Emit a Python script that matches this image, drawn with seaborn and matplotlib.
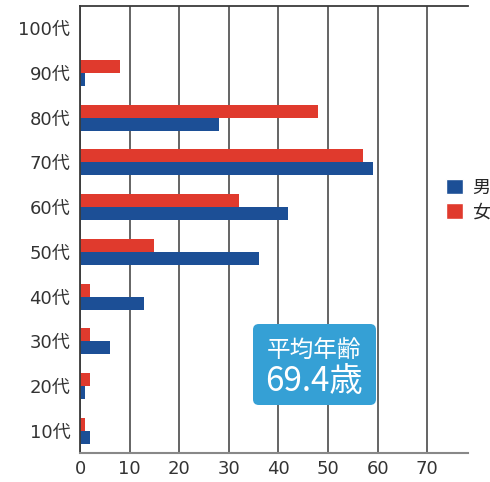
import matplotlib
matplotlib.use("Agg")
import matplotlib.pyplot as plt
import seaborn as sns
import pandas as pd
from matplotlib.patches import Patch, FancyBboxPatch

categories = ["100代", "90代", "80代", "70代", "60代", "50代", "40代", "30代", "20代", "10代"]
male = [0, 1, 28, 59, 42, 36, 13, 6, 1, 2]
female = [0, 8, 48, 57, 32, 15, 2, 2, 2, 1]
xticks = [0, 10, 20, 30, 40, 50, 60, 70]
avg_title = "平均年齢"
avg_value = "69.4歳"

df = pd.concat([
    pd.DataFrame({"年代": categories, "人数": female, "性別": "女"}),
    pd.DataFrame({"年代": categories, "人数": male, "性別": "男"}),
])

sns.set_theme(style="white")
plt.rcParams["font.family"] = ["DejaVu Sans", "Noto Sans CJK JP"]

BLUE = "#1c4f96"
RED = "#e03a2d"

fig = plt.figure(figsize=(4.9, 4.82), dpi=100)
ax = fig.add_axes([80/490, 29/482, 388/490, 447/482])

sns.barplot(data=df, x="人数", y="年代", hue="性別", hue_order=["女", "男"],
            order=categories, palette={"女": RED, "男": BLUE}, orient="h",
            width=0.58, ax=ax, legend=False, saturation=1, linewidth=0)

ax.set_xlim(0, 388/4.96)
ax.set_ylim(9.5, -0.5)
ax.set_xticks(xticks)
ax.set_xlabel("")
ax.set_ylabel("")
ax.xaxis.grid(True, color="#3a3a3a", linewidth=1.1)
ax.yaxis.grid(False)
ax.set_axisbelow(True)
for s in ["left", "top"]:
    ax.spines[s].set_color("#3a3a3a")
    ax.spines[s].set_linewidth(1.3)
ax.spines["bottom"].set_color("#888888")
ax.spines["bottom"].set_linewidth(1.5)
ax.spines["right"].set_visible(False)
ax.tick_params(axis="both", length=0, labelsize=13, colors="#333333")
ax.tick_params(axis="y", pad=7)
ax.tick_params(axis="x", pad=5)

handles = [Patch(facecolor=BLUE, label="男"), Patch(facecolor=RED, label="女")]
fig.legend(handles=handles, loc="center left", bbox_to_anchor=(446/490, 1 - 200/482),
           frameon=False, handlelength=0.95, handleheight=0.95,
           handletextpad=0.5, labelspacing=0.35, borderpad=0, borderaxespad=0,
           prop={"family": ["Noto Sans CJK JP"], "size": 13})

bx0, by0, bw, bh = 253/490, 1 - 405/482, 123/490, 81/482
fig.add_artist(FancyBboxPatch((bx0, by0), bw, bh,
                              boxstyle="round,pad=0,rounding_size=0.012",
                              transform=fig.transFigure, facecolor="#35a0d5",
                              edgecolor="none", zorder=5))
fig.text(314/490, 1 - 351/482, avg_title, color="white", fontsize=17,
         ha="center", va="center", zorder=6, family=["Noto Sans CJK JP"])
fig.text(314/490, 1 - 381/482, avg_value, color="white", fontsize=24,
         ha="center", va="center", zorder=6, family=["Noto Sans CJK JP"])

fig.savefig("out.png", dpi=100)
